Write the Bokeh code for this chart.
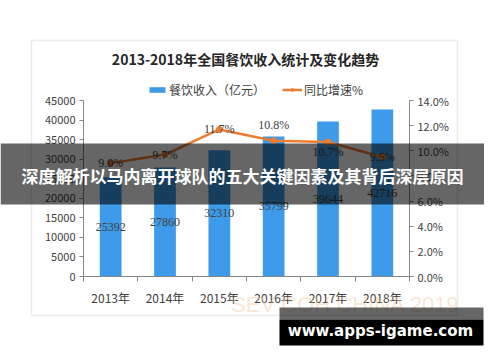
from bokeh.plotting import figure
from bokeh.models import (Range1d, LinearAxis, FixedTicker, CustomJSTickFormatter, Label,
                          BoxAnnotation, ColumnDataSource, LabelSet, Legend, LegendItem)
from bokeh.embed import file_html
from bokeh.resources import INLINE

# ---- data ----
years = ["2013年", "2014年", "2015年", "2016年", "2017年", "2018年"]
revenue = [25392, 27860, 32310, 35799, 39644, 42716]
growth = [9.0, 9.7, 11.7, 10.8, 10.7, 9.5]
left_ticks = [0, 5000, 10000, 15000, 20000, 25000, 30000, 35000, 40000, 45000]
right_ticks = [0, 2, 4, 6, 8, 10, 12, 14]
title_text = "2013-2018年全国餐饮收入统计及变化趋势"
legend_bar = "餐饮收入（亿元）"
legend_line = "同比增速%"
banner_text = "深度解析以马内离开球队的五大关键因素及其背后深层原因"
site_text = "www.apps-igame.com"
faint_text = "SEV COH CHINA 2019"

# ---- layout (canvas px, origin top-left) ----
W, H = 484, 346
PL, PR, PT, PB = 83, 409, 100, 276      # plot area edges
label_dy = [0, 0, 0, 16, -10, 0]        # label nudges, px

FONT = "Noto Sans CJK SC"
BLUE = "#3D9BEA"
ORANGE = "#ED7D31"
TXT = "#404040"
AX = "#868686"

n = len(years)
xpx = (PR - PL) / n
ypx_l = (PB - PT) / left_ticks[-1]
ypx_r = (PB - PT) / right_ticks[-1]

p = figure(width=W, height=H, output_backend="svg", toolbar_location=None,
           x_range=Range1d(-PL / xpx, n + (W - PR) / xpx),
           y_range=Range1d(-(H - PB) / ypx_l, left_ticks[-1] + PT / ypx_l),
           min_border=0, x_axis_location=None, y_axis_location=None)
p.extra_y_ranges = {"pct": Range1d(-(H - PB) / ypx_r, right_ticks[-1] + PT / ypx_r)}
p.grid.visible = False
p.outline_line_color = None
p.background_fill_color = "white"
p.border_fill_color = "white"

def sx(cx):
    return cx

def sy(cy):
    return H - cy

xs = [i + 0.5 for i in range(n)]
src = ColumnDataSource(dict(
    x=xs, rev=revenue, mid=[v / 2 for v in revenue], rev_txt=[str(v) for v in revenue],
    g=growth, g_txt=["%.1f%%" % v for v in growth], dy=label_dy))

def style_axis(ax):
    ax.axis_line_color = AX
    ax.major_tick_line_color = AX
    ax.minor_tick_line_color = AX
    ax.major_label_text_font = FONT
    ax.major_label_text_font_size = "11px"
    ax.major_label_text_color = TXT
    ax.major_tick_in = 0
    ax.minor_tick_in = 0

# left axis
lax = LinearAxis(ticker=FixedTicker(ticks=left_ticks), fixed_location=0,
                 bounds=(left_ticks[0], left_ticks[-1]))
style_axis(lax)
lax.major_tick_out = 4
lax.minor_tick_out = 0
lax.major_label_standoff = 4
p.add_layout(lax, "left")

# right axis
rax = LinearAxis(y_range_name="pct", ticker=FixedTicker(ticks=right_ticks), fixed_location=n,
                 bounds=(right_ticks[0], right_ticks[-1]),
                 formatter=CustomJSTickFormatter(code="return tick.toFixed(1) + '%'"))
style_axis(rax)
rax.major_tick_out = 4
rax.minor_tick_out = 0
rax.major_label_standoff = 4
p.add_layout(rax, "right")

# bottom axis
bax = LinearAxis(ticker=FixedTicker(ticks=xs, minor_ticks=list(range(n + 1))), fixed_location=0,
                 bounds=(0, n),
                 formatter=CustomJSTickFormatter(args=dict(labels=years),
                                                 code="return labels[Math.floor(tick)]"))
style_axis(bax)
bax.major_tick_line_color = None
bax.major_tick_out = 0
bax.minor_tick_out = 5
bax.major_label_standoff = 7
bax.major_label_text_font_size = "12px"
p.add_layout(bax, "below")

bars = p.vbar(x="x", top="rev", width=0.4, source=src, fill_color=BLUE, line_color=None)
line = p.line(x="x", y="g", source=src, y_range_name="pct", line_color=ORANGE, line_width=2.5)
dots = p.scatter(x="x", y="g", source=src, y_range_name="pct", size=6,
                 fill_color=ORANGE, line_color=ORANGE)

p.add_layout(LabelSet(x="x", y="mid", text="rev_txt", source=src, text_align="center",
                      text_baseline="middle", text_font=FONT, text_font_size="12px",
                      text_color=TXT))
p.add_layout(LabelSet(x="x", y="g", text="g_txt", source=src, y_range_name="pct",
                      y_offset="dy", text_align="center", text_baseline="middle",
                      text_font=FONT, text_font_size="12px", text_color=TXT))

legend = Legend(items=[LegendItem(label=legend_bar, renderers=[bars]),
                       LegendItem(label=legend_line, renderers=[line, dots])],
                location=(sx(147), sy(98)), orientation="horizontal", border_line_color=None,
                background_fill_alpha=0, label_text_font=FONT, label_text_font_size="12px",
                label_text_color=TXT, glyph_width=20, glyph_height=7, label_standoff=2,
                spacing=17, padding=0, margin=0, label_height=14)
p.add_layout(legend)

def box(l, r, t, b, **kw):
    return BoxAnnotation(left=sx(l), right=sx(r), top=sy(t), bottom=sy(b),
                         left_units="screen", right_units="screen", top_units="screen",
                         bottom_units="screen", **kw)

def text(cx, cy, s, font, size, color, bold=False, alpha=1.0):
    return Label(x=sx(cx), y=sy(cy), x_units="screen", y_units="screen", text=s,
                 text_align="center", text_baseline="middle", text_font=font,
                 text_font_size=size, text_font_style="bold" if bold else "normal",
                 text_color=color, text_alpha=alpha)

# chart border box
p.add_layout(box(31, 457, 40, 315, fill_alpha=0, line_color="#BFBFBF", line_width=1.5))
p.add_layout(text(245, 58, title_text, FONT, "14px", "#262626", bold=True))
p.add_layout(text(345, 304, faint_text, "Liberation Sans", "22px", "#F4C7A0", alpha=0.45))

# overlay banner
p.add_layout(box(0, W, 143, 204, fill_color="black", fill_alpha=0.6, line_color=None))
p.add_layout(text(242, 175, banner_text, FONT, "17px", "white", bold=True))

# site watermark
p.add_layout(box(279, 483, 307, 319, fill_color="black", fill_alpha=0.6, line_color=None))
p.add_layout(box(279, 483, 319, 345, fill_color="black", fill_alpha=1.0, line_color=None))
p.add_layout(text(380, 330, site_text, "DejaVu Sans", "15px", "white", bold=True))

open("out.html", "w").write(file_html(p, INLINE))
